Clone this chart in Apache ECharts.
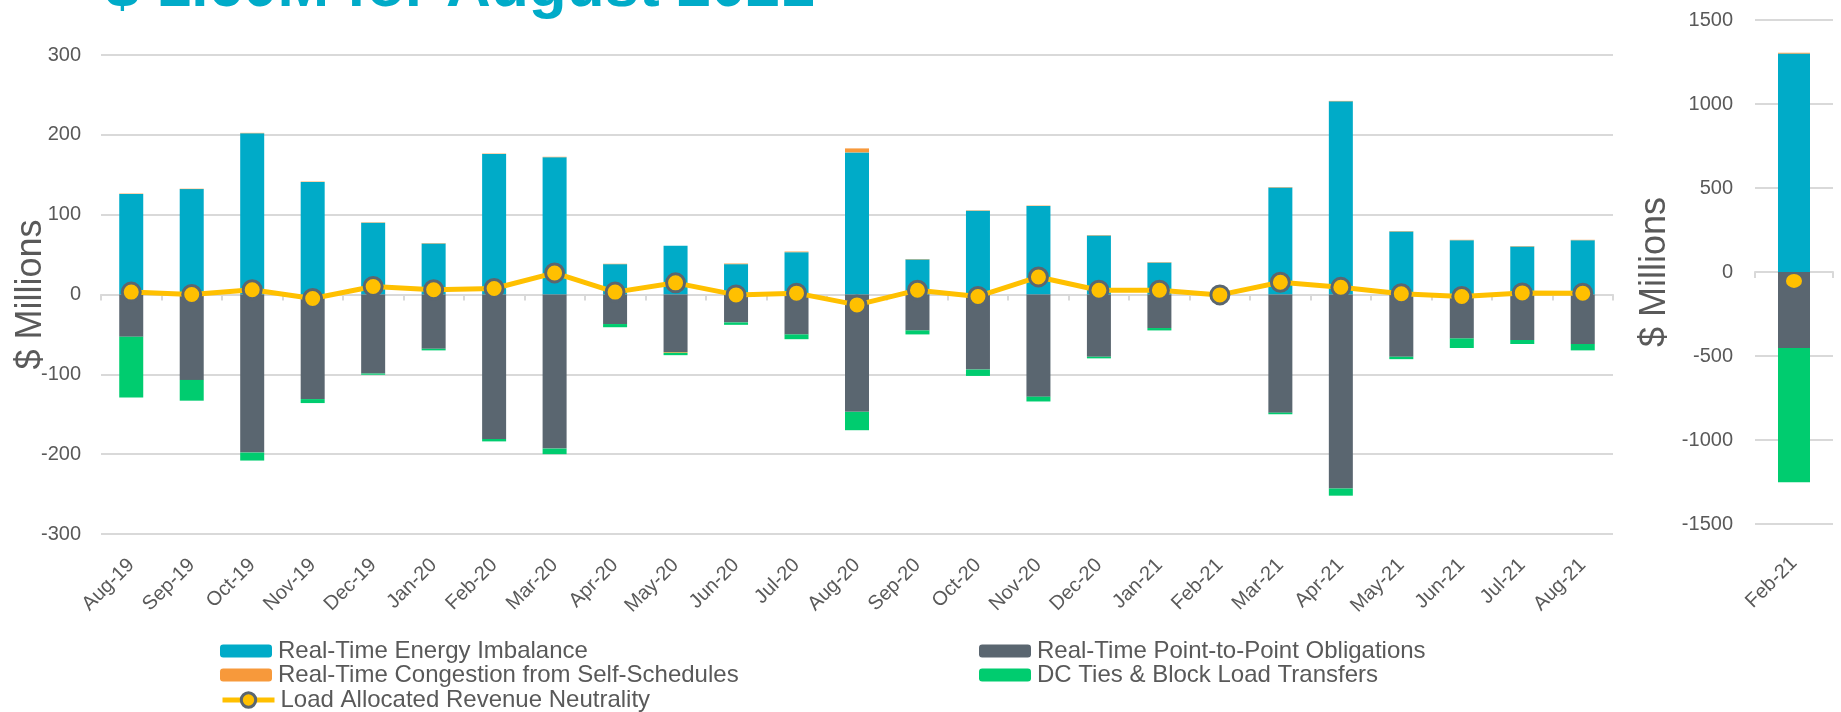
<!DOCTYPE html>
<html>
<head>
<meta charset="utf-8">
<title>RTRNA</title>
<script src="https://cdn.jsdelivr.net/npm/echarts/dist/echarts.min.js"></script>
<style>
    html, body { margin: 0; padding: 0; background: #fff; }
    #chart { width: 1841px; height: 712px; }
</style>
</head>
<body>
<div id="chart"></div>
<script>
// months on the main chart
var months = ['Aug-19', 'Sep-19', 'Oct-19', 'Nov-19', 'Dec-19', 'Jan-20', 'Feb-20', 'Mar-20', 'Apr-20',
    'May-20', 'Jun-20', 'Jul-20', 'Aug-20', 'Sep-20', 'Oct-20', 'Nov-20', 'Dec-20', 'Jan-21', 'Feb-21',
    'Mar-21', 'Apr-21', 'May-21', 'Jun-21', 'Jul-21', 'Aug-21'];

// $ millions, Feb-21 is drawn on its own scale at the right
var energyImbalance = [126, 132, 202, 141, 90, 64, 176, 172, 38, 61, 38, 53, 178, 44, 105, 111, 74, 40, null, 134, 242, 79, 68, 60, 68];
var p2pObligations = [-53, -107, -198, -131, -99, -68, -181, -193, -37, -72, -35, -50, -147, -45, -94, -128, -78, -42, null, -148, -243, -78, -55, -57, -62];
var congestionSelf = [0.5, 0.5, 0.5, 0.5, 0.5, 0.5, 0.5, 0.5, 0.5, -1, 0.8, 0.8, 5, 0.5, 0.5, 0.5, 0.5, 0.5, null, 0.5, 0.5, 0.5, 0.5, 0.5, 0.5];
var dcTies = [-76, -26, -10, -5, -1.5, -2, -3, -7, -4, -3, -3, -6, -23, -5, -8, -6, -2, -3, null, -2, -9, -3, -12, -5, -8];
var larn = [3, 0, 6, -5, 10, 6, 7.5, 27, 3, 14.6, -0.5, 1.7, -13, 5.4, -2.5, 22, 5.4, 5.4, -0.5, 15.4, 9, 1, -2.5, 2, 1.6];

// Feb-21 panel
var febMonth = ['Feb-21'];
var febEnergyImbalance = [1300];
var febP2p = [-452];
var febCongestion = [5];
var febDcTies = [-800];
var febLarn = [-53];

var mainTicks = { min: -300, max: 300, interval: 100 };
var febTicks = { min: -1500, max: 1500, interval: 500 };

var BLUE = '#00ABC8', DARK = '#5A6670', ORANGE = '#F7993B', GREEN = '#00CC6F', YELLOW = '#FFC000';
var GREY_TXT = '#595959', GRID = '#D9D9D9';
var FONT = 'Liberation Sans, Arial, sans-serif';

window.onload = function () {
    var myChart = echarts.init(document.getElementById('chart'));

    function labelAxis(gridIndex, data, margin) {
        return {
            type: 'category', gridIndex: gridIndex, data: data, position: 'bottom',
            axisLine: { show: false, onZero: false },
            axisTick: { show: false },
            axisLabel: { rotate: 45, interval: 0, margin: margin, fontSize: 20, color: GREY_TXT, fontFamily: FONT }
        };
    }

    function zeroAxis(gridIndex, data) {
        return {
            type: 'category', gridIndex: gridIndex, data: data, position: 'top',
            axisLine: { onZero: true, lineStyle: { color: GRID, width: 2 } },
            axisTick: { show: true, inside: true, length: 6, lineStyle: { color: GRID, width: 2 } },
            axisLabel: { show: false }
        };
    }

    function valueAxis(gridIndex, ticks, margin, nameGap) {
        return {
            type: 'value', gridIndex: gridIndex,
            min: ticks.min, max: ticks.max, interval: ticks.interval,
            name: '$ Millions', nameLocation: 'middle', nameGap: nameGap,
            nameMoveOverlap: false,
            nameTextStyle: { fontSize: 36, color: GREY_TXT, fontFamily: FONT },
            axisLine: { show: false }, axisTick: { show: false },
            axisLabel: {
                fontSize: 20, color: GREY_TXT, margin: margin, fontFamily: FONT,
                formatter: function (v) { return String(v); }
            },
            splitLine: { lineStyle: { color: GRID, width: 2 } }
        };
    }

    function bar(name, data, color, xi, yi, stack, width) {
        return {
            name: name, type: 'bar', stack: stack, data: data,
            xAxisIndex: xi, yAxisIndex: yi, barWidth: width,
            itemStyle: { color: color }
        };
    }

    // one legend per entry so the two columns line up like the original
    function legendItem(name, left, top, extra) {
        var lg = {
            orient: 'horizontal', left: left, top: top, itemWidth: 52, itemHeight: 13, itemGap: 0,
            textStyle: { fontSize: 24, color: GREY_TXT, fontFamily: FONT, padding: [0, 0, 0, 1] },
            data: [name]
        };
        if (extra) {
            lg.itemHeight = extra.itemHeight;
            lg.data = [{ name: name, lineStyle: { width: 5, color: YELLOW }, itemStyle: { color: YELLOW, borderColor: DARK, borderWidth: 3 } }];
        }
        return lg;
    }

    var option = {
        animation: false,
        backgroundColor: '#fff',
        title: {
            text: '$ 1.60M for August 2021',
            left: 100, top: -47,
            textStyle: { color: BLUE, fontSize: 62, fontWeight: 'bold', fontFamily: FONT }
        },
        legend: [
            legendItem('Real-Time Energy Imbalance', 215, 634),
            legendItem('Real-Time Congestion from Self-Schedules', 215, 658),
            legendItem('Load Allocated Revenue Neutrality', 215, 683, { itemHeight: 18 }),
            legendItem('Real-Time Point-to-Point Obligations', 974, 634),
            legendItem('DC Ties & Block Load Transfers', 974, 658)
        ],
        grid: [
            { left: 101, top: 55, width: 1512, height: 479, outerBoundsMode: 'none' },
            { left: 1755, top: 20, width: 78, height: 504, outerBoundsMode: 'none' }
        ],
        xAxis: [
            labelAxis(0, months, 28),
            zeroAxis(0, months),
            labelAxis(1, febMonth, 36),
            zeroAxis(1, febMonth)
        ],
        yAxis: [
            valueAxis(0, mainTicks, 20, 52),
            valueAxis(1, febTicks, 22, 82)
        ],
        series: [
            bar('Real-Time Energy Imbalance', energyImbalance, BLUE, 0, 0, 'main', 24),
            bar('Real-Time Point-to-Point Obligations', p2pObligations, DARK, 0, 0, 'main', 24),
            bar('Real-Time Congestion from Self-Schedules', congestionSelf, ORANGE, 0, 0, 'main', 24),
            bar('DC Ties & Block Load Transfers', dcTies, GREEN, 0, 0, 'main', 24),
            {
                name: 'Load Allocated Revenue Neutrality', type: 'line', data: larn,
                xAxisIndex: 0, yAxisIndex: 0, z: 5,
                symbol: 'circle', symbolSize: 18,
                lineStyle: { color: YELLOW, width: 5 },
                itemStyle: { color: YELLOW, borderColor: DARK, borderWidth: 3 }
            },
            bar('Real-Time Energy Imbalance', febEnergyImbalance, BLUE, 2, 1, 'feb', 32),
            bar('Real-Time Point-to-Point Obligations', febP2p, DARK, 2, 1, 'feb', 32),
            bar('Real-Time Congestion from Self-Schedules', febCongestion, ORANGE, 2, 1, 'feb', 32),
            bar('DC Ties & Block Load Transfers', febDcTies, GREEN, 2, 1, 'feb', 32),
            {
                name: 'Load Allocated Revenue Neutrality', type: 'line', data: febLarn,
                xAxisIndex: 2, yAxisIndex: 1, z: 5,
                symbol: 'circle', symbolSize: [16, 14],
                itemStyle: { color: YELLOW, borderWidth: 0 }
            }
        ]
    };
    myChart.setOption(option);
};
</script>
</body>
</html>
